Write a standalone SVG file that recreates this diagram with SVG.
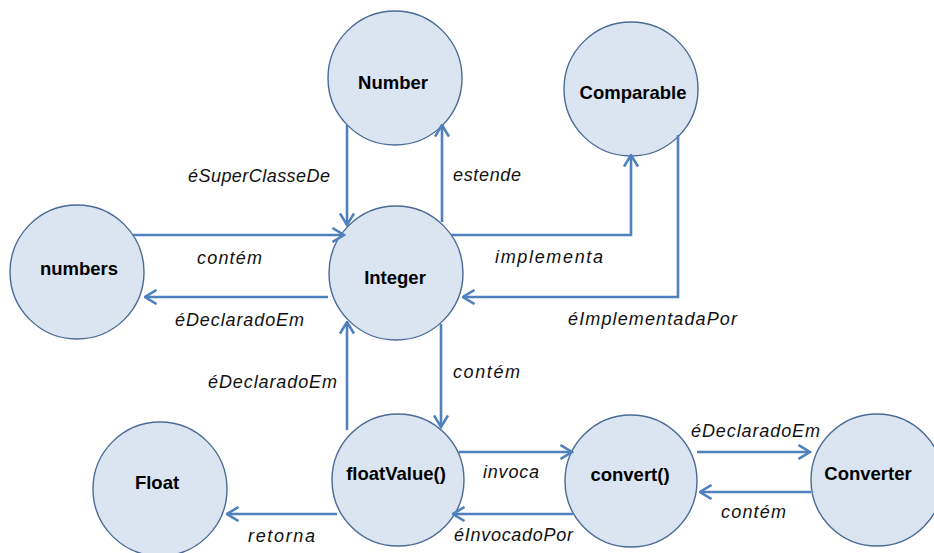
<svg xmlns="http://www.w3.org/2000/svg" width="934" height="553" viewBox="0 0 934 553">
<defs>
<style>
.node circle{fill:#dbe5f1;stroke:#4b6a96;stroke-width:1.4}
.node text{font-family:"Liberation Sans",Arial,sans-serif;font-weight:bold;font-size:18.5px;fill:#000;text-anchor:middle}
.edge{fill:none;stroke:#4f81bd;stroke-width:2.6;marker-end:url(#arr)}
.lbl{font-family:"Liberation Sans",Arial,sans-serif;font-style:italic;font-size:18px;fill:#111}
</style>
<marker id="arr" viewBox="0 0 14 16" refX="12.5" refY="8" markerWidth="14" markerHeight="16" markerUnits="userSpaceOnUse" orient="auto">
<path d="M1,1 L12.5,8 L1,15" fill="none" stroke="#4f81bd" stroke-width="2.6"/>
</marker>
</defs>
<rect width="934" height="553" fill="#fff"/>
<g id="Number" class="node"><circle cx="395" cy="78" r="67"/><text x="393" y="89">Number</text></g>
<g id="Comparable" class="node"><circle cx="631" cy="89" r="67"/><text x="633" y="99">Comparable</text></g>
<g id="numbers" class="node"><circle cx="77" cy="272" r="67"/><text x="79" y="275">numbers</text></g>
<g id="Integer" class="node"><circle cx="396" cy="273" r="67"/><text x="395" y="284">Integer</text></g>
<g id="Float" class="node"><circle cx="160" cy="489" r="67"/><text x="157" y="489">Float</text></g>
<g id="floatValue" class="node"><circle cx="398" cy="480" r="66"/><text x="396" y="480">floatValue()</text></g>
<g id="convert" class="node"><circle cx="631" cy="481" r="66"/><text x="630" y="481">convert()</text></g>
<g id="Converter" class="node"><circle cx="877" cy="480" r="66"/><text x="868" y="480">Converter</text></g>
<g id="connectors">
<path class="edge" d="M347,125 L347,225"/>
<path class="edge" d="M442,222 L442,125"/>
<path class="edge" d="M451,235 L631,235 L631,155"/>
<path class="edge" d="M678,135 L678,297 L463,297"/>
<path class="edge" d="M133,235 L344,235"/>
<path class="edge" d="M328,297 L145,297"/>
<path class="edge" d="M347,430 L347,322"/>
<path class="edge" d="M441,324 L441,427"/>
<path class="edge" d="M459,452 L572,452"/>
<path class="edge" d="M573,514 L453,514"/>
<path class="edge" d="M697,452 L810,452"/>
<path class="edge" d="M811,492 L700,492"/>
<path class="edge" d="M337,514 L227,514"/>
</g>
<g id="labels">
<text class="lbl" x="188" y="182" textLength="142">éSuperClasseDe</text>
<text class="lbl" x="453" y="181" textLength="68">estende</text>
<text class="lbl" x="197" y="264" textLength="65">contém</text>
<text class="lbl" x="175" y="326" textLength="129">éDeclaradoEm</text>
<text class="lbl" x="495" y="263" textLength="108">implementa</text>
<text class="lbl" x="568" y="325" textLength="169">éImplementadaPor</text>
<text class="lbl" x="453" y="378" textLength="67">contém</text>
<text class="lbl" x="208" y="388" textLength="129">éDeclaradoEm</text>
<text class="lbl" x="483" y="478" textLength="56">invoca</text>
<text class="lbl" x="454" y="541" textLength="119">éInvocadoPor</text>
<text class="lbl" x="691" y="437" textLength="129">éDeclaradoEm</text>
<text class="lbl" x="721" y="518" textLength="65">contém</text>
<text class="lbl" x="248" y="542" textLength="67">retorna</text>
</g>
</svg>
